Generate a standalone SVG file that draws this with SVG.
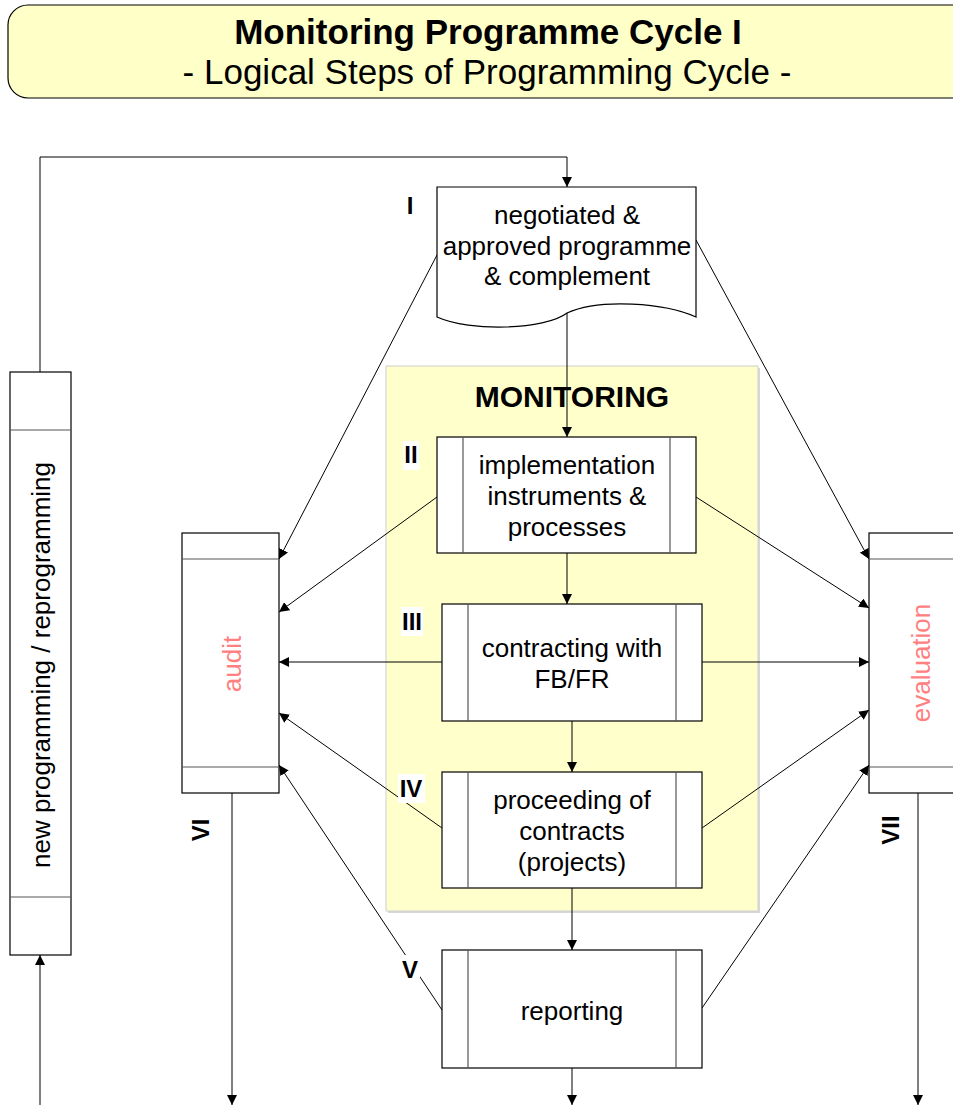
<svg xmlns="http://www.w3.org/2000/svg" width="953" height="1105" viewBox="0 0 953 1105">
  <style>
    .box { fill: #ffffff; stroke: #000000; stroke-width: 1.2; }
    .div { stroke: #555555; stroke-width: 1.2; fill: none; }
    .txt { font-family: "Liberation Sans", Arial, sans-serif; font-size: 26px; fill: #000000; text-anchor: middle; }
    .pink { font-family: "Liberation Sans", Arial, sans-serif; font-size: 26px; fill: #ff8080; text-anchor: middle; }
    .num { font-family: "Liberation Sans", Arial, sans-serif; font-size: 24px; font-weight: bold; fill: #000000; text-anchor: middle; }
    .conn { stroke: #000000; stroke-width: 1; fill: none; marker-end: url(#arrow); }
  </style>
  <defs>
    <marker id="arrow" viewBox="0 0 10 10" refX="10" refY="5" markerWidth="10" markerHeight="10" markerUnits="userSpaceOnUse" orient="auto">
      <path d="M0,0 L10,5 L0,10 Z" fill="#000000"/>
    </marker>
  </defs>

  <rect width="953" height="1105" fill="#ffffff"/>

  <!-- title banner -->
  <g id="title">
    <rect x="8" y="5" width="970" height="93" rx="20" ry="20" fill="#ffffc8" stroke="#000000" stroke-width="1.2"/>
    <text x="488" y="44" style="font-family:'Liberation Sans',Arial,sans-serif;font-size:35px;font-weight:bold;text-anchor:middle">Monitoring Programme Cycle I</text>
    <text x="487" y="84" style="font-family:'Liberation Sans',Arial,sans-serif;font-size:35px;text-anchor:middle">- Logical Steps of Programming Cycle -</text>
  </g>

  <!-- monitoring area -->
  <g id="monitoring">
    <rect x="388" y="368" width="372" height="545" fill="#d8d8d8"/>
    <rect x="386" y="366" width="372" height="545" fill="#ffffcc" stroke="#d0d0d0" stroke-width="1"/>
    <text x="572" y="407" style="font-family:'Liberation Sans',Arial,sans-serif;font-size:30px;font-weight:bold;text-anchor:middle">MONITORING</text>
  </g>

  <!-- connectors -->
  <g id="connectors">
    <path class="conn" d="M40,372 V157 H567 V187"/>
    <path class="conn" d="M567,313 V437"/>
    <path class="conn" d="M567,553 V604"/>
    <path class="conn" d="M572,721 V772"/>
    <path class="conn" d="M572,888 V950"/>
    <path class="conn" d="M572,1068 V1105"/>
    <path class="conn" d="M232,793 V1105"/>
    <path class="conn" d="M918,793 V1105"/>
    <path class="conn" d="M40,1105 V955"/>
    <!-- into audit -->
    <path class="conn" d="M437,255 L279,559"/>
    <path class="conn" d="M437,497 L279,612"/>
    <path class="conn" d="M442,662 L279,662"/>
    <path class="conn" d="M442,828 L279,713"/>
    <path class="conn" d="M442,1010 L279,765"/>
    <!-- into evaluation -->
    <path class="conn" d="M696,240 L869,559"/>
    <path class="conn" d="M696,497 L869,608"/>
    <path class="conn" d="M702,662 L869,662"/>
    <path class="conn" d="M702,828 L869,710"/>
    <path class="conn" d="M702,1008 L869,765"/>
  </g>

  <!-- I: programme document -->
  <g id="node-I">
    <path class="box" d="M437,187 H696 V317 C665,303 600,298 567,313 C545,330 470,332 437,317 Z"/>
    <text class="txt" x="567" y="224">negotiated &amp;</text>
    <text class="txt" x="567" y="255">approved programme</text>
    <text class="txt" x="567" y="285">&amp; complement</text>
    <text class="num" x="410" y="214">I</text>
  </g>

  <!-- II -->
  <g id="node-II">
    <rect class="box" x="437" y="437" width="259" height="116"/>
    <line class="div" x1="463" y1="437" x2="463" y2="553"/>
    <line class="div" x1="670" y1="437" x2="670" y2="553"/>
    <text class="txt" x="567" y="474">implementation</text>
    <text class="txt" x="567" y="505">instruments &amp;</text>
    <text class="txt" x="567" y="536">processes</text>
    <rect x="403" y="441" width="16" height="29" fill="#ffffff"/>
    <text class="num" x="411" y="463">II</text>
  </g>

  <!-- III -->
  <g id="node-III">
    <rect class="box" x="442" y="604" width="260" height="117"/>
    <line class="div" x1="468" y1="604" x2="468" y2="721"/>
    <line class="div" x1="676" y1="604" x2="676" y2="721"/>
    <text class="txt" x="572" y="657">contracting with</text>
    <text class="txt" x="572" y="688">FB/FR</text>
    <rect x="401" y="607" width="22" height="29" fill="#ffffff"/>
    <text class="num" x="412" y="630">III</text>
  </g>

  <!-- IV -->
  <g id="node-IV">
    <rect class="box" x="442" y="772" width="260" height="116"/>
    <line class="div" x1="468" y1="772" x2="468" y2="888"/>
    <line class="div" x1="676" y1="772" x2="676" y2="888"/>
    <text class="txt" x="572" y="809">proceeding of</text>
    <text class="txt" x="572" y="840">contracts</text>
    <text class="txt" x="572" y="871">(projects)</text>
    <rect x="398" y="774" width="27" height="29" fill="#ffffff"/>
    <text class="num" x="411" y="797">IV</text>
  </g>

  <!-- V -->
  <g id="node-V">
    <rect class="box" x="442" y="950" width="260" height="118"/>
    <line class="div" x1="468" y1="950" x2="468" y2="1068"/>
    <line class="div" x1="676" y1="950" x2="676" y2="1068"/>
    <text class="txt" x="572" y="1020">reporting</text>
    <rect x="400" y="955" width="20" height="29" fill="#ffffff"/>
    <text class="num" x="410" y="978">V</text>
  </g>

  <!-- VI: audit -->
  <g id="node-VI">
    <rect class="box" x="182" y="533" width="97" height="260"/>
    <line class="div" x1="182" y1="559" x2="279" y2="559"/>
    <line class="div" x1="182" y1="767" x2="279" y2="767"/>
    <text class="pink" transform="translate(241,664) rotate(-90)">audit</text>
    <text class="num" transform="translate(209,830) rotate(-90)">VI</text>
  </g>

  <!-- VII: evaluation -->
  <g id="node-VII">
    <rect class="box" x="869" y="533" width="110" height="260"/>
    <line class="div" x1="869" y1="559" x2="979" y2="559"/>
    <line class="div" x1="869" y1="767" x2="979" y2="767"/>
    <text class="pink" transform="translate(930,663) rotate(-90)">evaluation</text>
    <text class="num" transform="translate(899,830) rotate(-90)">VII</text>
  </g>

  <!-- new programming / reprogramming -->
  <g id="node-reprogramming">
    <rect class="box" x="10" y="372" width="61" height="583"/>
    <line class="div" x1="10" y1="430" x2="71" y2="430"/>
    <line class="div" x1="10" y1="897" x2="71" y2="897"/>
    <text class="txt" transform="translate(50,665) rotate(-90)">new programming / reprogramming</text>
  </g>
</svg>
